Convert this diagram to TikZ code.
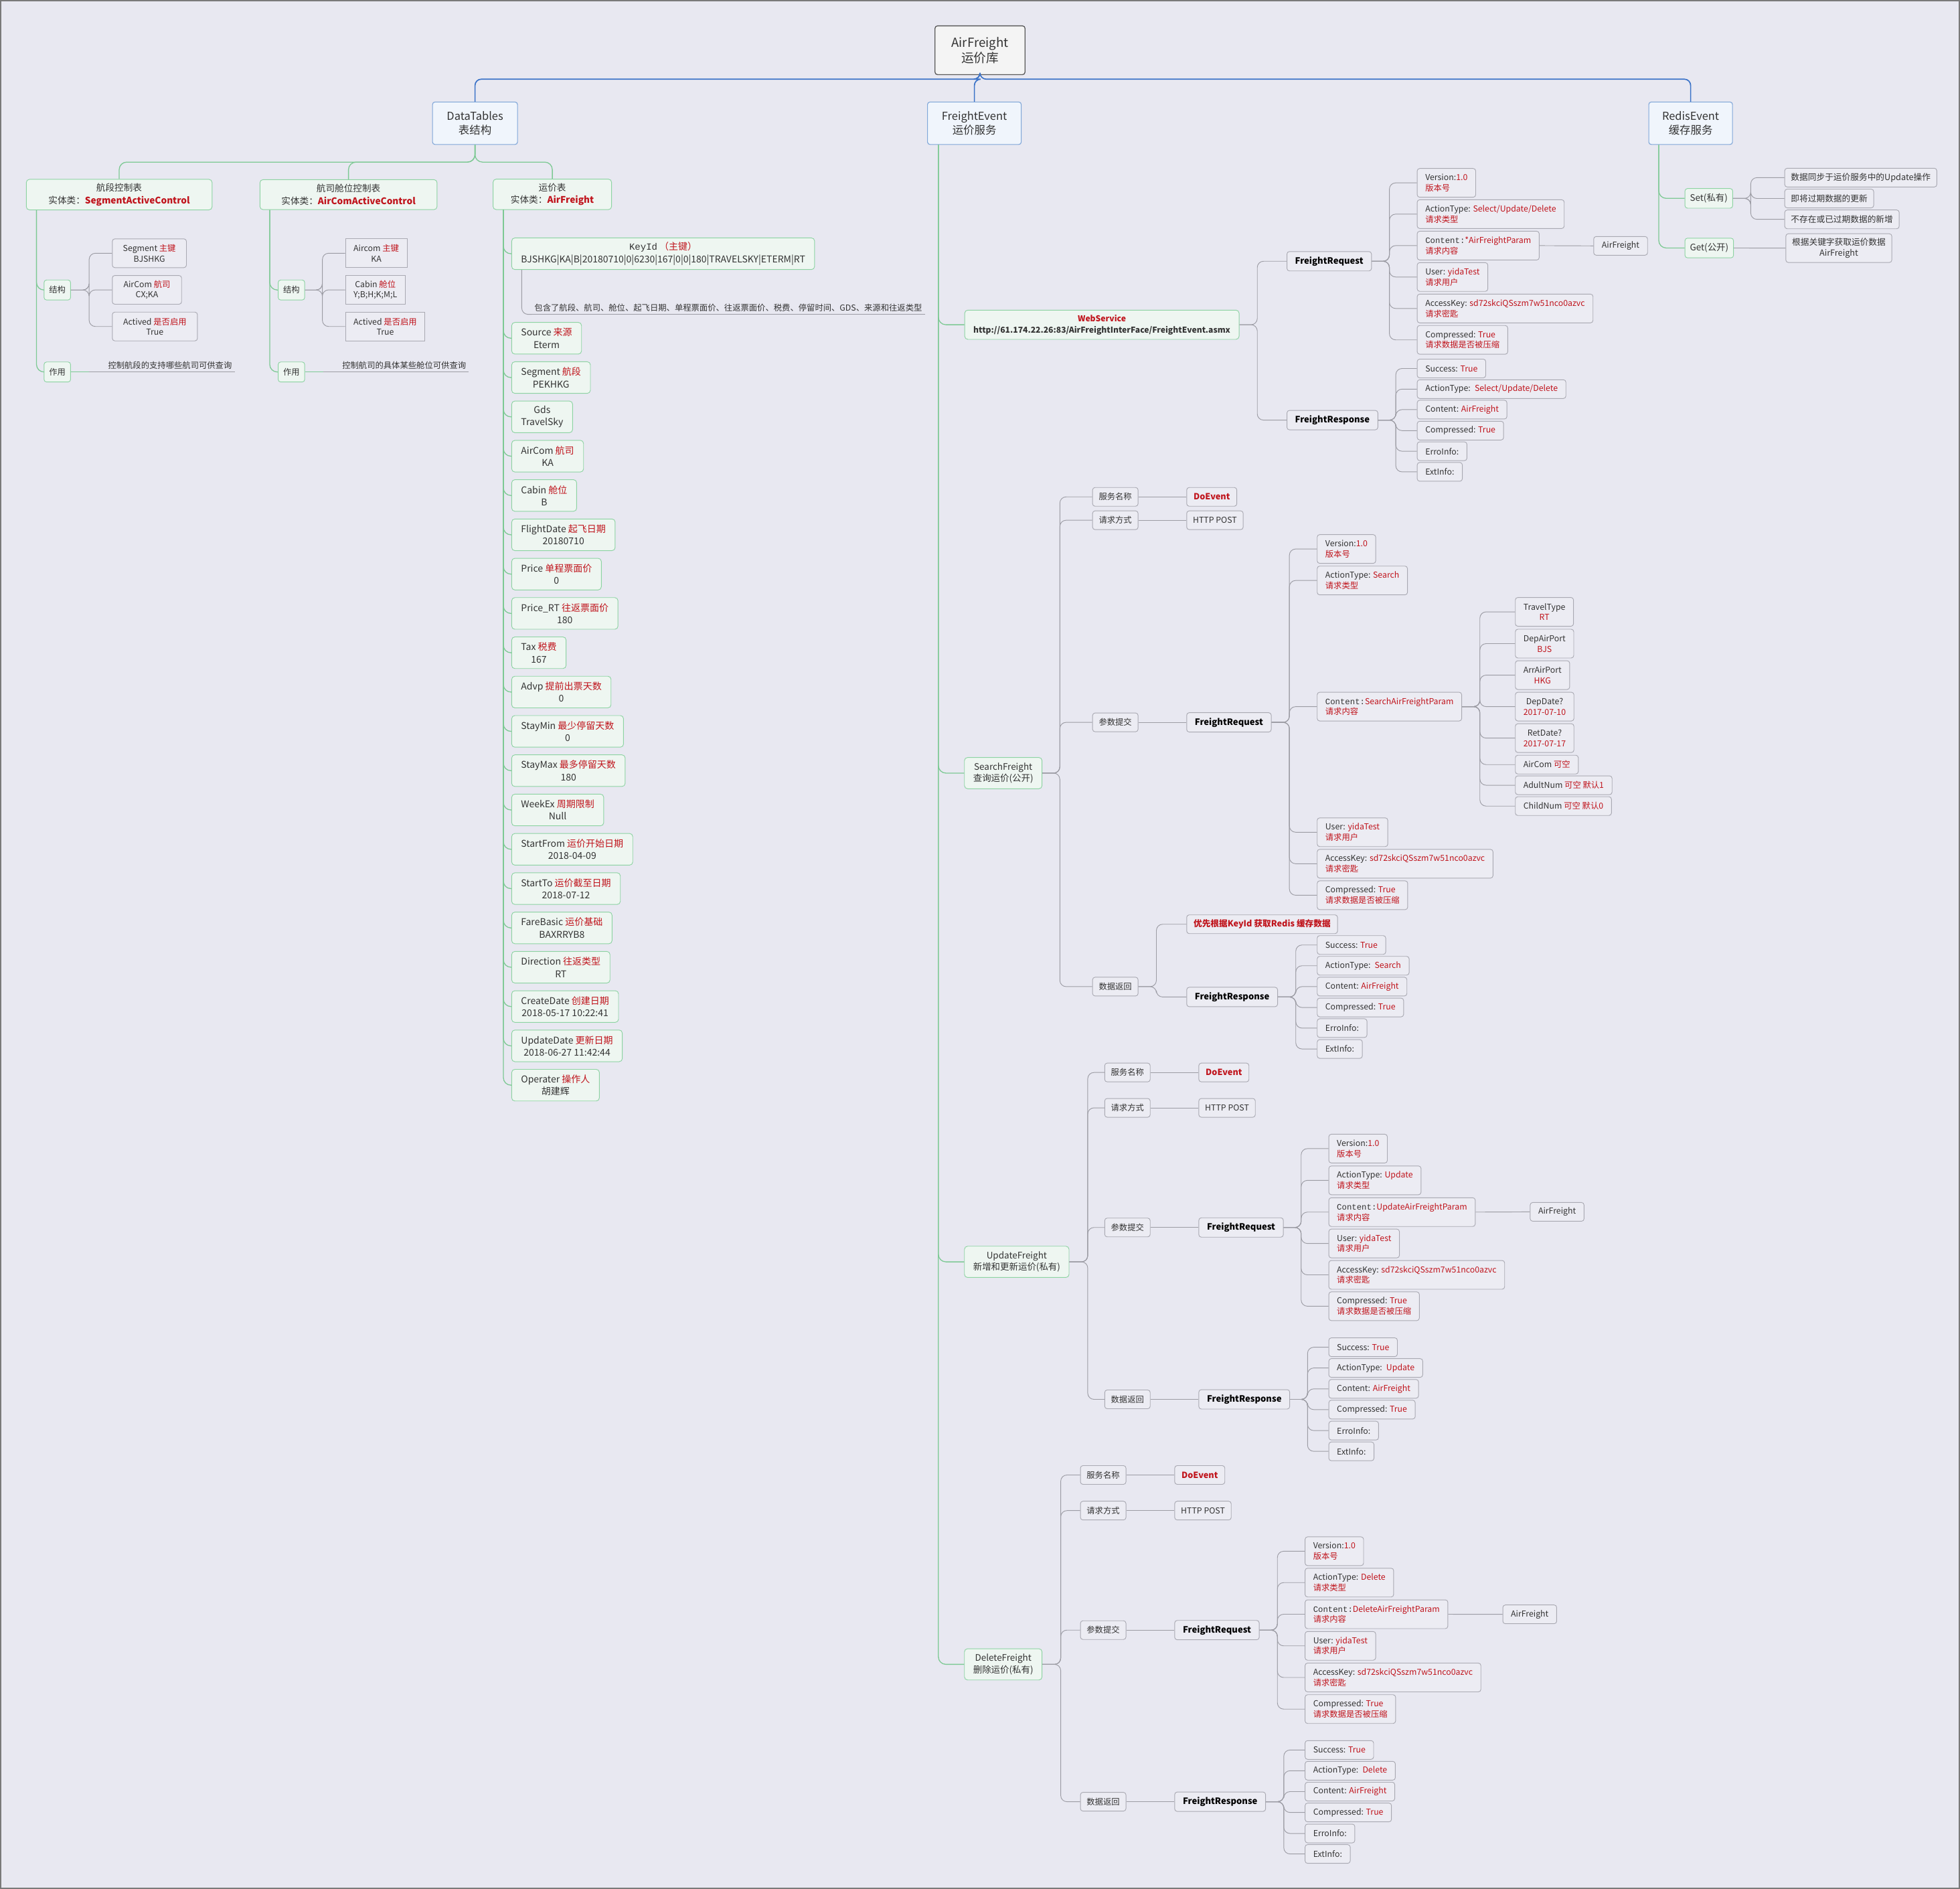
\documentclass[tikz,border=0pt]{standalone}
\usepackage{fontspec}
\setmainfont{Noto Sans CJK SC}
\newfontfamily\codefont{Liberation Mono}
\usetikzlibrary{calc}

\definecolor{bgcol}{HTML}{E8E8F1}
\definecolor{framecol}{HTML}{7A7A7A}
\definecolor{txtdark}{HTML}{333333}
\definecolor{txtred}{HTML}{C0141C}
\definecolor{rootline}{HTML}{5A5A5A}
\definecolor{rootfill}{HTML}{F4F4F4}
\definecolor{boxblue}{HTML}{7FA6D8}
\definecolor{fillblue}{HTML}{F0F5FC}
\definecolor{lineblue}{HTML}{3B73C8}
\definecolor{boxgreen}{HTML}{8DD3A2}
\definecolor{fillgreen}{HTML}{EEF6F1}
\definecolor{linegreen}{HTML}{7DC994}
\definecolor{boxgray}{HTML}{A9A9B2}
\definecolor{fillgray}{HTML}{ECECF3}
\definecolor{linegray}{HTML}{9C9CA4}

\newcommand{\redtxt}[1]{\textcolor{txtred}{#1}}
\newcommand{\fsz}[2]{\fontsize{#1}{#2}\selectfont}

\tikzset{
  every node/.style={text=txtdark},
  rootbox/.style={draw=rootline, fill=rootfill, rounded corners=2pt, line width=0.7pt, align=center,
    font=\fsz{10}{12.2}, minimum width=72pt, minimum height=39pt},
  topbox/.style={draw=boxblue, fill=fillblue, rounded corners=2pt, line width=0.6pt, align=center,
    font=\fsz{8.8}{10.9}, minimum height=34pt},
  tabbox/.style={draw=boxgreen, fill=fillgreen, rounded corners=2.5pt, line width=0.5pt, align=center,
    anchor=west, font=\fsz{7.3}{9.8}, minimum height=24pt, inner xsep=7pt},
  fieldbox/.style={tabbox, font=\fsz{7.5}{9.8}, inner xsep=7.5pt, minimum height=25.3pt},
  svcbox/.style={tabbox, font=\fsz{7.2}{9.2}, minimum height=25pt},
  tagbox/.style={draw=boxgreen, fill=fillgreen, rounded corners=2pt, line width=0.5pt, anchor=west,
    font=\fsz{6.6}{8.4}, minimum height=16pt, inner xsep=4pt},
  gbox/.style={draw=boxgray, fill=fillgray, rounded corners=2pt, line width=0.5pt, anchor=west,
    align=left, font=\fsz{6.6}{8.4}, minimum height=15pt, inner xsep=6.5pt},
  gbox2/.style={gbox, minimum height=23pt},
  tbox/.style={gbox, align=center, minimum height=23pt, font=\fsz{6.6}{8.4}},
  cnbox/.style={gbox, font=\fsz{6.6}{8.4}, inner xsep=5pt},
  reqbox/.style={gbox, font=\fsz{7}{8.4}\bfseries, text=black, minimum height=15.5pt},
  evbox/.style={gbox, font=\fsz{6.8}{8.4}\bfseries, text=txtred, inner xsep=5.5pt},
  uline/.style={anchor=south west, inner xsep=2pt, inner ysep=2pt, font=\fsz{6.6}{8.4}},
  gline/.style={draw=linegray, line width=0.5pt, rounded corners=5pt},
  greenline/.style={draw=linegreen, line width=0.7pt, rounded corners=6pt},
  blueline/.style={draw=lineblue, line width=0.9pt, rounded corners=5pt},
}

\begin{document}
\begin{tikzpicture}[x=1pt,y=-1pt]
  % fondo
  \fill[bgcol] (0,0) rectangle (1568,1511);
  \useasboundingbox (0,0) rectangle (1568,1511);
  \draw[framecol, line width=1pt] (0.5,0.5) rectangle (1567.5,1510.5);

  % raiz y primer nivel
  \node[rootbox] (root) at (784,40.2) {AirFreight\\运价库};
  \node[topbox, minimum width=68pt] (dt) at (380,98.6) {DataTables\\表结构};
  \node[topbox, minimum width=75pt] (fe) at (779.5,98.6) {FreightEvent\\运价服务};
  \node[topbox, minimum width=67pt] (re) at (1352.5,98.6) {RedisEvent\\缓存服务};
  \foreach \c in {dt,fe,re}
    \draw[blueline] (root.south) -- ++(0,3.3) -| (\c.north);

  % DataTables
  \node[tabbox, minimum width=148.6pt] (t1) at (20.8,155.7) {航段控制表\\实体类：\redtxt{\textbf{SegmentActiveControl}}};
  \node[tabbox, minimum width=141.7pt] (t2) at (207.7,155.7) {航司舱位控制表\\实体类：\redtxt{\textbf{AirComActiveControl}}};
  \node[tabbox, minimum width=94.8pt] (t3) at (394.2,155.5) {运价表\\实体类：\redtxt{\textbf{AirFreight}}};
  \foreach \c in {t1,t2,t3}
    \draw[greenline] (dt.south) -- ++(0,13.8) -| (\c.north);

  % 航段控制表
  \node[tagbox] (jg1) at (35,232) {结构};
  \node[tagbox] (zy1) at (35,297.6) {作用};
  \foreach \c in {jg1,zy1}
    \draw[greenline] ([xshift=8.4pt]t1.south west) |- (\c.west);
  \node[tbox, minimum width=59.3pt] (s11) at (89.6,202.6) {Segment \redtxt{主键}\\BJSHKG};
  \node[tbox, minimum width=55.4pt] (s12) at (89.6,231.9) {AirCom \redtxt{航司}\\CX;KA};
  \node[tbox, minimum width=68.1pt] (s13) at (89.6,261.2) {Actived \redtxt{是否启用}\\True};
  \foreach \c in {s11,s12,s13}
    \draw[gline] (jg1.east) -- ++(14.6,0) |- (\c.west);
  \node[uline] (zt1) at ([xshift=14.6pt]zy1.east) {\hspace*{13pt}控制航段的支持哪些航司可供查询};
  \draw[gline] (zt1.south west) -- (zt1.south east);
  \draw[greenline] (zy1.east) -- (zt1.south west);

  % 航司舱位控制表
  \node[tagbox] (jg2) at (222.3,232) {结构};
  \node[tagbox] (zy2) at (222.3,297.6) {作用};
  \foreach \c in {jg2,zy2}
    \draw[greenline] ([xshift=8.1pt]t2.south west) |- (\c.west);
  \node[tbox, rounded corners=0pt, minimum width=47.7pt] (s21) at (276.1,202.6) {Aircom \redtxt{主键}\\KA};
  \node[tbox, rounded corners=0pt, minimum width=43.8pt] (s22) at (276.1,231.9) {Cabin \redtxt{舱位}\\Y;B;H;K;M;L};
  \node[tbox, rounded corners=0pt, minimum width=62.3pt] (s23) at (276.1,261.2) {Actived \redtxt{是否启用}\\True};
  \foreach \c in {s21,s22,s23}
    \draw[gline] (jg2.east) -- ++(13.9,0) |- (\c.west);
  \node[uline] (zt2) at ([xshift=14.6pt]zy2.east) {\hspace*{13pt}控制航司的具体某些舱位可供查询};
  \draw[gline] (zt2.south west) -- (zt2.south east);
  \draw[greenline] (zy2.east) -- (zt2.south west);

  % 运价表
  \node[fieldbox] (key) at (409.1,203) {{\codefont KeyId}\ \redtxt{（主键）}\\BJSHKG|KA|B|20180710|0|6230|167|0|0|180|TRAVELSKY|ETERM|RT};
  \draw[greenline] ([xshift=8.5pt]t3.south west) |- (key.west);
  \node[uline] (kdesc) at (425.4,251.5) {包含了航段、航司、舱位、起飞日期、单程票面价、往返票面价、税费、停留时间、GDS、来源和往返类型};
  \draw[gline] (kdesc.south west) -- (kdesc.south east);
  \draw[gline] ([xshift=8.3pt]key.south west) |- (kdesc.south west);
  \foreach \nm/\tx [count=\i from 0] in {
      fsrc/{Source \redtxt{来源}\\Eterm},
      fseg/{Segment \redtxt{航段}\\PEKHKG},
      fgds/{Gds\\TravelSky},
      fac/{AirCom \redtxt{航司}\\KA},
      fcab/{Cabin \redtxt{舱位}\\B},
      fdate/{FlightDate \redtxt{起飞日期}\\20180710},
      fprice/{Price \redtxt{单程票面价}\\0},
      fprt/{Price\_RT \redtxt{往返票面价}\\180},
      ftax/{Tax \redtxt{税费}\\167},
      fadvp/{Advp \redtxt{提前出票天数}\\0},
      fsmin/{StayMin \redtxt{最少停留天数}\\0},
      fsmax/{StayMax \redtxt{最多停留天数}\\180},
      fwex/{WeekEx \redtxt{周期限制}\\Null},
      fsfrom/{StartFrom \redtxt{运价开始日期}\\2018-04-09},
      fsto/{StartTo \redtxt{运价截至日期}\\2018-07-12},
      fbas/{FareBasic \redtxt{运价基础}\\BAXRRYB8},
      fdir/{Direction \redtxt{往返类型}\\RT},
      fcdate/{CreateDate \redtxt{创建日期}\\2018-05-17 10:22:41},
      fudate/{UpdateDate \redtxt{更新日期}\\2018-06-27 11:42:44},
      foper/{Operater \redtxt{操作人}\\胡建辉}} {
    \node[fieldbox] (\nm) at (409.1,{270.6+31.45*\i}) {\tx};
    \draw[greenline] ([xshift=8.5pt]t3.south west) |- (\nm.west);
  }

  % FreightEvent
  \node[svcbox, font=\fsz{6.5}{8.9}\bfseries, minimum height=23.4pt] (ws) at (771.5,259.8)
    {\redtxt{WebService}\\http://61.174.22.26:83/AirFreightInterFace/FreightEvent.asmx};
  \node[svcbox] (sf) at (771.3,618.5) {SearchFreight\\查询运价(公开)};
  \node[svcbox] (uf) at (771.3,1009.5) {UpdateFreight\\新增和更新运价(私有)};
  \node[svcbox] (df) at (771.3,1331.5) {DeleteFreight\\删除运价(私有)};
  \foreach \c in {ws,sf,uf,df}
    \draw[greenline] ([xshift=9pt]fe.south west) |- (\c.west);

  % WebService
  \node[reqbox] (wreq) at (1029.3,209) {FreightRequest};
  \node[reqbox] (wresp) at (1029.3,336.1) {FreightResponse};
  \foreach \c in {wreq,wresp}
    \draw[gline] (ws.east) -- ++(14.3,0) |- (\c.west);
  \node[gbox2] (wver) at (1133.5,146.3) {Version:\redtxt{1.0}\\\redtxt{版本号}};
  \node[gbox2] (wact) at (1133.5,171.3) {ActionType: \redtxt{Select/Update/Delete}\\\redtxt{请求类型}};
  \node[gbox2] (wcon) at (1133.5,196.5) {{\codefont Content:}\redtxt{*AirFreightParam}\\\redtxt{请求内容}};
  \node[gbox2] (wusr) at (1133.5,221.6) {User: \redtxt{yidaTest}\\\redtxt{请求用户}};
  \node[gbox2] (wkey) at (1133.5,246.8) {AccessKey: \redtxt{sd72skciQSszm7w51nco0azvc}\\\redtxt{请求密匙}};
  \node[gbox2] (wcmp) at (1133.5,271.9) {Compressed: \redtxt{True}\\\redtxt{请求数据是否被压缩}};
  \foreach \c in {wver,wact,wcon,wusr,wkey,wcmp}
    \draw[gline] (wreq.east) -- ++(14.1,0) |- (\c.west);
  \node[gbox] (waf) at (1274.7,196.7) {AirFreight};
  \draw[gline] (wcon.east) -- (waf.west);
  \node[gbox] (wok) at (1133.5,294.8) {Success: \redtxt{True}};
  \node[gbox] (wact2) at (1133.5,311.3) {ActionType:\enspace\redtxt{Select/Update/Delete}};
  \node[gbox] (wcon2) at (1133.5,327.7) {Content: \redtxt{AirFreight}};
  \node[gbox] (wcmp2) at (1133.5,344.5) {Compressed: \redtxt{True}};
  \node[gbox] (werr) at (1133.5,361) {ErroInfo:};
  \node[gbox] (wext) at (1133.5,377.5) {ExtInfo:};
  \foreach \c in {wok,wact2,wcon2,wcmp2,werr,wext}
    \draw[gline] (wresp.east) -- ++(14.1,0) |- (\c.west);

  % RedisEvent
  \node[tagbox, font=\fsz{7.2}{9}, minimum height=15.7pt] (rset) at (1347.7,158.7) {Set(私有)};
  \node[tagbox, font=\fsz{7.2}{9}, minimum height=15.7pt] (rget) at (1347.7,198.4) {Get(公开)};
  \foreach \c in {rset,rget}
    \draw[greenline] ([xshift=8.3pt]re.south west) |- (\c.west);
  \node[gbox, font=\fsz{6.8}{8.6}, inner xsep=5pt] (rs1) at (1427.5,142.1) {数据同步于运价服务中的Update操作};
  \node[gbox, font=\fsz{6.8}{8.6}, inner xsep=5pt] (rs2) at (1427.5,158.8) {即将过期数据的更新};
  \node[gbox, font=\fsz{6.8}{8.6}, inner xsep=5pt] (rs3) at (1427.5,175.5) {不存在或已过期数据的新增};
  \foreach \c in {rs1,rs2,rs3}
    \draw[gline] (rset.east) -- ++(14.2,0) |- (\c.west);
  \node[gbox, font=\fsz{6.8}{8.6}, align=center, minimum height=23pt, inner xsep=5pt] (rg1) at (1428.4,198.5) {根据关键字获取运价数据\\AirFreight};
  \draw[gline] (rget.east) -- (rg1.west);

  % SearchFreight
  \node[cnbox] (sfn) at (873.8,397.5) {服务名称};
  \node[cnbox] (sfm) at (873.8,416.2) {请求方式};
  \node[cnbox] (sfp) at (873.8,577.9) {参数提交};
  \node[cnbox] (sfr) at (873.8,789.3) {数据返回};
  \foreach \c in {sfn,sfm,sfp,sfr}
    \draw[gline] (sf.east) -- ++(14,0) |- (\c.west);
  \node[evbox] (sfnv) at (949.1,397.5) {DoEvent};
  \node[cnbox] (sfmv) at (949.1,416.2) {HTTP POST};
  \node[reqbox] (sfreq) at (949.1,577.9) {FreightRequest};
  \node[evbox] (sfcache) at (949.1,739.4) {优先根据KeyId 获取Redis 缓存数据};
  \node[reqbox] (sfresp) at (949.1,797.6) {FreightResponse};
  \draw[gline] (sfn.east) -- (sfnv.west);
  \draw[gline] (sfm.east) -- (sfmv.west);
  \draw[gline] (sfp.east) -- (sfreq.west);
  \foreach \c in {sfcache,sfresp}
    \draw[gline] (sfr.east) -- ++(14.4,0) |- (\c.west);
  \node[gbox2] (sfver) at (1053.5,439.2) {Version:\redtxt{1.0}\\\redtxt{版本号}};
  \node[gbox2] (sfact) at (1053.5,464.4) {ActionType: \redtxt{Search}\\\redtxt{请求类型}};
  \node[gbox2] (sfcon) at (1053.5,565.3) {{\codefont Content:}\redtxt{SearchAirFreightParam}\\\redtxt{请求内容}};
  \node[gbox2] (sfusr) at (1053.5,665.8) {User: \redtxt{yidaTest}\\\redtxt{请求用户}};
  \node[gbox2] (sfkey) at (1053.5,691) {AccessKey: \redtxt{sd72skciQSszm7w51nco0azvc}\\\redtxt{请求密匙}};
  \node[gbox2] (sfcmp) at (1053.5,716.2) {Compressed: \redtxt{True}\\\redtxt{请求数据是否被压缩}};
  \foreach \c in {sfver,sfact,sfcon,sfusr,sfkey,sfcmp}
    \draw[gline] (sfreq.east) -- ++(14.3,0) |- (\c.west);
  \node[gbox2, align=center] (sftt) at (1212,489.5) {TravelType\\\redtxt{RT}};
  \node[gbox2, align=center] (sfdep) at (1212,514.9) {DepAirPort\\\redtxt{BJS}};
  \node[gbox2, align=center] (sfarr) at (1212,540.1) {ArrAirPort\\\redtxt{HKG}};
  \node[gbox2, align=center] (sfdd) at (1212,565.3) {DepDate?\\\redtxt{2017-07-10}};
  \node[gbox2, align=center] (sfrd) at (1212,590.5) {RetDate?\\\redtxt{2017-07-17}};
  \node[gbox] (sfac) at (1212,611.7) {AirCom \redtxt{可空}};
  \node[gbox] (sfad) at (1212,628.2) {AdultNum \redtxt{可空 默认1}};
  \node[gbox] (sfch) at (1212,644.9) {ChildNum \redtxt{可空 默认0}};
  \foreach \c in {sftt,sfdep,sfarr,sfdd,sfrd,sfac,sfad,sfch}
    \draw[gline] (sfcon.east) -- ++(14.3,0) |- (\c.west);
  \node[gbox] (sfok) at (1053.5,756) {Success: \redtxt{True}};
  \node[gbox] (sfact2) at (1053.5,772.6) {ActionType:\enspace\redtxt{Search}};
  \node[gbox] (sfcon2) at (1053.5,789.3) {Content: \redtxt{AirFreight}};
  \node[gbox] (sfcmp2) at (1053.5,806) {Compressed: \redtxt{True}};
  \node[gbox] (sferr) at (1053.5,822.5) {ErroInfo:};
  \node[gbox] (sfext) at (1053.5,839.2) {ExtInfo:};
  \foreach \c in {sfok,sfact2,sfcon2,sfcmp2,sferr,sfext}
    \draw[gline] (sfresp.east) -- ++(14.3,0) |- (\c.west);

  % UpdateFreight
  \node[cnbox] (ufn) at (883.5,858) {服务名称};
  \node[cnbox] (ufm) at (883.5,886.3) {请求方式};
  \node[cnbox] (ufp) at (883.5,982) {参数提交};
  \node[cnbox] (ufr) at (883.5,1119.5) {数据返回};
  \foreach \c in {ufn,ufm,ufp,ufr}
    \draw[gline] (uf.east) -- ++(14.7,0) |- (\c.west);
  \node[evbox] (ufnv) at (958.8,858) {DoEvent};
  \node[cnbox] (ufmv) at (958.8,886.3) {HTTP POST};
  \node[reqbox] (ufreq) at (958.8,982) {FreightRequest};
  \node[reqbox] (ufresp) at (958.8,1119.5) {FreightResponse};
  \draw[gline] (ufn.east) -- (ufnv.west);
  \draw[gline] (ufm.east) -- (ufmv.west);
  \draw[gline] (ufp.east) -- (ufreq.west);
  \draw[gline] (ufr.east) -- (ufresp.west);
  \node[gbox2] (ufver) at (1062.8,918.9) {Version:\redtxt{1.0}\\\redtxt{版本号}};
  \node[gbox2] (ufact) at (1062.8,944.3) {ActionType: \redtxt{Update}\\\redtxt{请求类型}};
  \node[gbox2] (ufcon) at (1062.8,969.7) {{\codefont Content:}\redtxt{UpdateAirFreightParam}\\\redtxt{请求内容}};
  \node[gbox2] (ufusr) at (1062.8,994.8) {User: \redtxt{yidaTest}\\\redtxt{请求用户}};
  \node[gbox2] (ufkey) at (1062.8,1019.9) {AccessKey: \redtxt{sd72skciQSszm7w51nco0azvc}\\\redtxt{请求密匙}};
  \node[gbox2] (ufcmp) at (1062.8,1045) {Compressed: \redtxt{True}\\\redtxt{请求数据是否被压缩}};
  \foreach \c in {ufver,ufact,ufcon,ufusr,ufkey,ufcmp}
    \draw[gline] (ufreq.east) -- ++(14,0) |- (\c.west);
  \node[gbox] (ufaf) at (1223.9,969.5) {AirFreight};
  \draw[gline] (ufcon.east) -- (ufaf.west);
  \node[gbox] (ufok) at (1062.8,1077.8) {Success: \redtxt{True}};
  \node[gbox] (ufact2) at (1062.8,1094.4) {ActionType:\enspace\redtxt{Update}};
  \node[gbox] (ufcon2) at (1062.8,1111.1) {Content: \redtxt{AirFreight}};
  \node[gbox] (ufcmp2) at (1062.8,1127.7) {Compressed: \redtxt{True}};
  \node[gbox] (uferr) at (1062.8,1144.5) {ErroInfo:};
  \node[gbox] (ufext) at (1062.8,1161.1) {ExtInfo:};
  \foreach \c in {ufok,ufact2,ufcon2,ufcmp2,uferr,ufext}
    \draw[gline] (ufresp.east) -- ++(14,0) |- (\c.west);

  % DeleteFreight
  \node[cnbox] (dfn) at (864.1,1180) {服务名称};
  \node[cnbox] (dfm) at (864.1,1208.5) {请求方式};
  \node[cnbox] (dfp) at (864.1,1304.1) {参数提交};
  \node[cnbox] (dfr) at (864.1,1441.4) {数据返回};
  \foreach \c in {dfn,dfm,dfp,dfr}
    \draw[gline] (df.east) -- ++(14.7,0) |- (\c.west);
  \node[evbox] (dfnv) at (939.5,1180) {DoEvent};
  \node[cnbox] (dfmv) at (939.5,1208.5) {HTTP POST};
  \node[reqbox] (dfreq) at (939.5,1304.1) {FreightRequest};
  \node[reqbox] (dfresp) at (939.5,1441.4) {FreightResponse};
  \draw[gline] (dfn.east) -- (dfnv.west);
  \draw[gline] (dfm.east) -- (dfmv.west);
  \draw[gline] (dfp.east) -- (dfreq.west);
  \draw[gline] (dfr.east) -- (dfresp.west);
  \node[gbox2] (dfver) at (1043.8,1241) {Version:\redtxt{1.0}\\\redtxt{版本号}};
  \node[gbox2] (dfact) at (1043.8,1266.1) {ActionType: \redtxt{Delete}\\\redtxt{请求类型}};
  \node[gbox2] (dfcon) at (1043.8,1291.4) {{\codefont Content:}\redtxt{DeleteAirFreightParam}\\\redtxt{请求内容}};
  \node[gbox2] (dfusr) at (1043.8,1316.7) {User: \redtxt{yidaTest}\\\redtxt{请求用户}};
  \node[gbox2] (dfkey) at (1043.8,1342) {AccessKey: \redtxt{sd72skciQSszm7w51nco0azvc}\\\redtxt{请求密匙}};
  \node[gbox2] (dfcmp) at (1043.8,1367.3) {Compressed: \redtxt{True}\\\redtxt{请求数据是否被压缩}};
  \foreach \c in {dfver,dfact,dfcon,dfusr,dfkey,dfcmp}
    \draw[gline] (dfreq.east) -- ++(14.3,0) |- (\c.west);
  \node[gbox] (dfaf) at (1202,1291.5) {AirFreight};
  \draw[gline] (dfcon.east) -- (dfaf.west);
  \node[gbox] (dfok) at (1043.8,1400) {Success: \redtxt{True}};
  \node[gbox] (dfact2) at (1043.8,1416.6) {ActionType:\enspace\redtxt{Delete}};
  \node[gbox] (dfcon2) at (1043.8,1433.3) {Content: \redtxt{AirFreight}};
  \node[gbox] (dfcmp2) at (1043.8,1450) {Compressed: \redtxt{True}};
  \node[gbox] (dferr) at (1043.8,1466.8) {ErroInfo:};
  \node[gbox] (dfext) at (1043.8,1483.2) {ExtInfo:};
  \foreach \c in {dfok,dfact2,dfcon2,dfcmp2,dferr,dfext}
    \draw[gline] (dfresp.east) -- ++(14.3,0) |- (\c.west);
\end{tikzpicture}
\end{document}
